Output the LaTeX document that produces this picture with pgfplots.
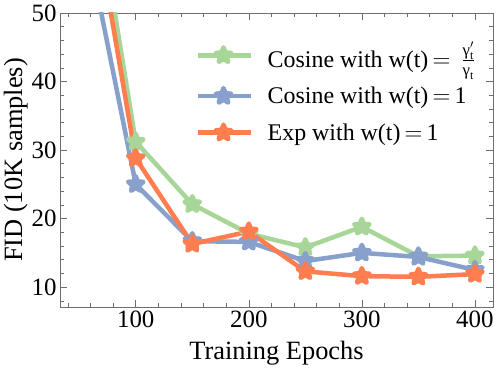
\documentclass[border=0pt]{standalone}
\usepackage{fontspec}
\setmainfont{Liberation Serif}
\usepackage{amsmath}
\usepackage{pgfplots}
\pgfplotsset{compat=1.18}
\definecolor{cgreen}{RGB}{168,214,152}
\definecolor{cblue}{RGB}{136,160,204}
\definecolor{corange}{RGB}{255,125,78}
\definecolor{framegray}{RGB}{110,110,110}
\pgfdeclareplotmark{fstar}{%
  \pgfpathmoveto{\pgfpointpolar{90}{\pgfplotmarksize}}%
  \pgfpathlineto{\pgfpointpolar{126}{0.45\pgfplotmarksize}}%
  \pgfpathlineto{\pgfpointpolar{162}{\pgfplotmarksize}}%
  \pgfpathlineto{\pgfpointpolar{198}{0.45\pgfplotmarksize}}%
  \pgfpathlineto{\pgfpointpolar{234}{\pgfplotmarksize}}%
  \pgfpathlineto{\pgfpointpolar{270}{0.45\pgfplotmarksize}}%
  \pgfpathlineto{\pgfpointpolar{306}{\pgfplotmarksize}}%
  \pgfpathlineto{\pgfpointpolar{342}{0.45\pgfplotmarksize}}%
  \pgfpathlineto{\pgfpointpolar{18}{\pgfplotmarksize}}%
  \pgfpathlineto{\pgfpointpolar{54}{0.45\pgfplotmarksize}}%
  \pgfpathclose
  \pgfusepathqfillstroke}
\begin{document}
\begin{tikzpicture}
\begin{axis}[
  scale only axis, width=433bp, height=294bp,
  xmin=33, xmax=416, ymin=7.1, ymax=50,
  xtick={100,200,300,400}, ytick={10,20,30,40,50},
  minor xtick={40,60,...,400}, minor ytick={8,10,...,50},
  tick align=inside, major tick length=7bp, minor tick length=4bp,
  axis line style={framegray, line width=0.8bp},
  every tick/.style={framegray, line width=0.6bp},
  /pgf/number format/assume math mode=true,
  tick label style={font=\fontsize{25}{28}\selectfont},
  label style={font=\fontsize{26.5}{30}\selectfont},
  xlabel={Training Epochs}, ylabel={FID (10K samples)},
  xlabel style={yshift=-7bp},
  ylabel style={yshift=-3bp},
  legend style={at={(rel axis cs:0.305,0.915)}, anchor=north west, draw=none, fill=none,
    font=\fontsize{24}{28}\selectfont, row sep=14.5bp},
  legend cell align=left,
  legend image code/.code={\draw[#1, mark repeat=2, mark phase=2] plot coordinates {(0bp,0bp) (26bp,0bp) (53bp,0bp)}; \path (66bp,0bp);},
  every axis plot/.append style={line width=4.5bp, line join=round, mark=fstar, mark size=8bp,
    mark options={line width=0.5bp}},
]
\addplot[cgreen, mark options={fill=cgreen, draw=cgreen}] coordinates {
(50,82) (100,31.2) (150,22.1) (200,17.8) (250,15.8) (300,18.8) (350,14.5) (400,14.6)};
\addlegendentry{Cosine with w(t)$\,=\,\frac{\text{γ}^{\prime}_{\text{t}}}{\text{γ}_{\text{t}}}$}
\addplot[cblue, mark options={fill=cblue, draw=cblue}] coordinates {
(50,66) (100,25.0) (150,16.7) (200,16.6) (250,13.8) (300,15.0) (350,14.4) (400,12.5)};
\addlegendentry{Cosine with w(t)$\,=\,$1}
\addplot[corange, mark options={fill=corange, draw=corange}] coordinates {
(50,77) (100,28.8) (150,16.3) (200,18.1) (250,12.3) (300,11.6) (350,11.5) (400,11.9)};
\addlegendentry{Exp with w(t)$\,=\,$1}
\end{axis}
\useasboundingbox ([xshift=-60bp,yshift=-65bp]current axis.south west) rectangle ([xshift=5bp,yshift=13bp]current axis.north east);
\end{tikzpicture}
\end{document}
